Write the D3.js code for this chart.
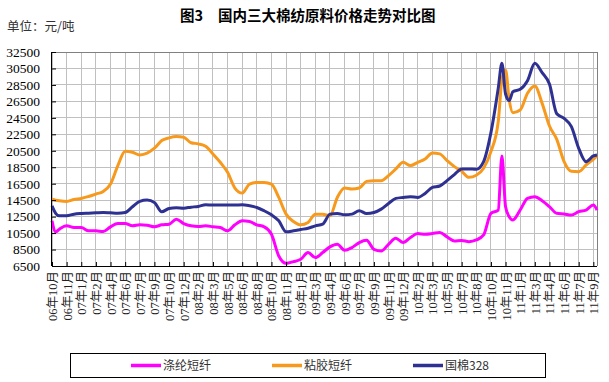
<!DOCTYPE html>
<html><head><meta charset="utf-8">
<script src="https://cdn.jsdelivr.net/npm/d3@7"></script>
<style>
html,body{margin:0;padding:0;background:#fff;}
svg{display:block;}
</style></head>
<body><svg id="c" width="609" height="382"></svg>
<script>
// ---- data ----
const xLabels = ["06年10月","06年11月","07年1月","07年2月","07年4月","07年6月","07年7月","07年9月","07年10月","07年12月",
  "08年2月","08年3月","08年5月","08年6月","08年8月","08年10月","08年11月","09年1月","09年3月","09年4月",
  "09年6月","09年7月","09年9月","09年11月","09年12月","10年2月","10年3月","10年5月","10年7月","10年8月",
  "10年10月","10年11月","11年1月","11年3月","11年4月","11年6月","11年7月","11年9月"];
const yTicks = [6500,8500,10500,12500,14500,16500,18500,20500,22500,24500,26500,28500,30500,32500];
// positions along the time axis, in units of label intervals
const positions = [0,0.25,0.5,1,1.5,2,2.5,3,3.5,4,4.5,
  5,5.5,6,6.5,7,7.5,8,8.5,9,9.5,
  10,10.5,11,11.5,12,12.5,13,13.5,14,14.5,
  15,15.5,16,16.5,17,17.5,18,18.5,19,19.5,
  20,20.5,21,21.5,22,22.5,23,23.5,24,24.5,
  25,25.5,26,26.5,27,27.5,28,28.5,29,29.5,
  30,30.5,30.75,31,31.25,31.5,
  32,32.5,33,33.5,34,34.5,35,35.5,36,36.5,37,37.25];
const polyester = [12000,10650,10970,11380,11170,11170,10770,10770,10690,11260,11660,
  11660,11380,11500,11460,11260,11500,11580,12190,11660,11380,
  11300,11380,11260,11170,10770,11500,11990,11910,11500,11260,
  10360,7720,6830,7030,7310,8130,7520,8130,8820,9140,
  8410,8740,9350,9630,8530,8330,9140,9870,9350,9960,
  10440,10360,10440,10570,10040,9550,9600,9460,9660,10270,
  12900,13300,19870,13710,12490,12090,
  13300,14720,14920,14440,13710,12900,12820,12700,13100,13300,13910,13300];
const viscose = [14600,14500,14430,14350,14590,14710,14950,15240,15560,16460,18700,
  20440,20320,20000,20200,20810,21740,22070,22230,22150,21480,
  21340,21050,20120,19100,17880,15970,15360,16460,16660,16660,
  16460,14830,12800,11910,11500,11790,12800,12800,12600,14830,
  15970,15850,15970,16780,16870,16870,17480,18290,19100,18700,
  19100,19510,20240,20120,19310,18570,18000,17270,17520,18370,
  20390,24040,29100,30310,26670,25130,
  25450,27480,28370,26260,23510,21890,19180,18000,17960,18770,19460,19870];
const cotton328 = [13800,12900,12600,12600,12800,12880,12920,12960,13000,12960,12920,
  13000,13700,14350,14510,14220,13080,13490,13570,13530,13650,
  13740,13940,13900,13900,13900,13900,13940,13820,13610,13210,
  12720,11990,10650,10770,10930,11090,11380,11580,12800,12880,
  12720,12800,13210,12880,13000,13410,14100,14710,14830,14910,
  14830,15320,16050,16220,16870,17600,18300,18290,18250,19180,
  22700,28090,31120,27400,26600,27680,
  27970,29020,31120,29990,28600,25000,24440,23430,20800,19180,19870,19990];
const seriesNames = ["涤纶短纤","粘胶短纤","国棉328"];
const seriesColors = ["#ff00ff","#f7991c","#2e3191"];

// ---- layout ----
const svg = d3.select("#c");
const L = 52, R = 597, T = 52, B = 266;
const x = d3.scaleLinear().domain([0, 37.25]).range([L, R]);
const y = d3.scaleLinear().domain([6500, 32500]).range([B, T]);
const serif = "'Times New Roman','Liberation Serif','Noto Sans CJK SC',serif";

// title
svg.append("text").attr("x", 180).attr("y", 21)
  .attr("font-family", "'Noto Sans CJK SC',sans-serif").attr("font-size", 14.5)
  .attr("font-weight", "bold").attr("fill", "#000")
  .text("图3").append("tspan").attr("dx", 15).text("国内三大棉纺原料价格走势对比图");
svg.append("text").attr("x", 7).attr("y", 31)
  .attr("font-family", "'Noto Sans CJK SC',sans-serif").attr("font-size", 12.5)
  .attr("fill", "#333").text("单位：元/吨");

// grid
const g = svg.append("g");
g.selectAll("line.h").data(yTicks).join("line")
  .attr("x1", L).attr("x2", R).attr("y1", d => y(d)).attr("y2", d => y(d))
  .attr("stroke", "#c0c0c0").attr("stroke-width", 1).attr("shape-rendering", "crispEdges");
g.selectAll("line.v").data(d3.range(xLabels.length)).join("line")
  .attr("y1", T).attr("y2", B).attr("x1", d => x(d)).attr("x2", d => x(d))
  .attr("stroke", "#c0c0c0").attr("stroke-width", 1).attr("shape-rendering", "crispEdges");
// top/right border
svg.append("path").attr("d", `M${L},${T}H${R}V${B}`).attr("fill", "none")
  .attr("stroke", "#808080").attr("stroke-width", 1).attr("shape-rendering", "crispEdges");

// lines
const lineGen = vals => d3.line().x((d, i) => x(positions[i])).y(d => y(d)).curve(d3.curveMonotoneX)(vals);
[polyester, viscose, cotton328].forEach((vals, k) => {
  svg.append("path").attr("d", lineGen(vals)).attr("fill", "none")
    .attr("stroke", seriesColors[k]).attr("stroke-width", 3).attr("stroke-linejoin", "round");
});

// axes
const xAxis = d3.axisBottom(x).tickValues(d3.range(xLabels.length)).tickFormat(i => xLabels[i])
  .tickSizeInner(-4).tickSizeOuter(0);
const gx = svg.append("g").attr("transform", `translate(0,${B})`).call(xAxis);
gx.select(".domain").attr("d", `M${L},0.5H${R}`).attr("stroke", "#000").attr("shape-rendering", "crispEdges");
gx.selectAll(".tick line").attr("stroke", "#000");
gx.selectAll(".tick text").attr("transform", "rotate(-90)").attr("text-anchor", "end")
  .attr("x", -5).attr("y", 0).attr("dy", "0.36em")
  .attr("font-family", serif).attr("font-size", 12.5).attr("fill", "#222");

const yAxis = d3.axisLeft(y).tickValues(yTicks).tickFormat(d => d).tickSizeInner(-4).tickSizeOuter(0).tickPadding(12);
const gy = svg.append("g").attr("transform", `translate(${L},0)`).call(yAxis);
gy.select(".domain").attr("d", `M-0.5,${T}V${B}`).attr("stroke", "#000").attr("shape-rendering", "crispEdges");
gy.selectAll(".tick line").attr("stroke", "#000");
gy.selectAll(".tick text").attr("font-family", serif).attr("font-size", 13.5).attr("fill", "#000");

// legend
svg.append("rect").attr("x", 70.5).attr("y", 353.5).attr("width", 475).attr("height", 24)
  .attr("fill", "#fff").attr("stroke", "#000").attr("stroke-width", 1);
const legX = [131, 272, 413];
seriesNames.forEach((n, k) => {
  svg.append("line").attr("x1", legX[k]).attr("x2", legX[k] + 30).attr("y1", 365.5).attr("y2", 365.5)
    .attr("stroke", seriesColors[k]).attr("stroke-width", 3.5);
  svg.append("text").attr("x", legX[k] + 32).attr("y", 370)
    .attr("font-family", "'Noto Sans CJK SC',sans-serif").attr("font-size", 12)
    .attr("fill", "#333").text(n);
});
</script></body></html>
